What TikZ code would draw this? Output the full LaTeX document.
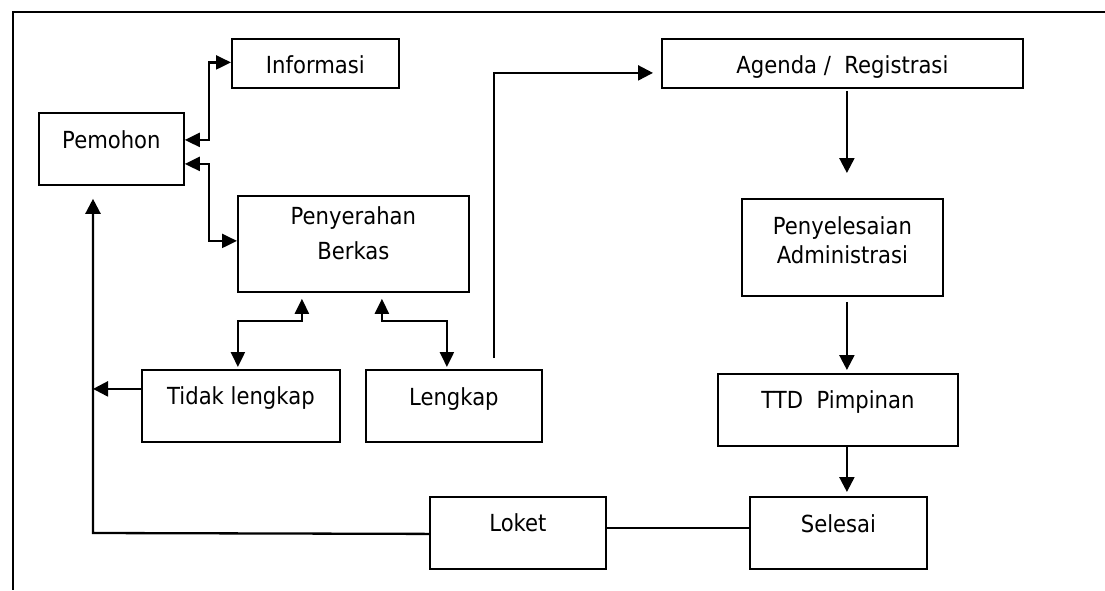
\documentclass[tikz,border=0pt]{standalone}
\usepackage{fontspec}
\setmainfont{DejaVu Sans}[FakeStretch=0.9]
\usetikzlibrary{arrows.meta}

\begin{document}
\begin{tikzpicture}[x=1pt,y=-1pt,
  boxn/.style={draw, line width=1.8pt, inner sep=0pt, anchor=north west,
    align=center, font=\fontsize{23.5}{29}\selectfont},
  flow/.style={line width=2.3pt, -{Triangle[length=15pt,width=15pt]}},
  twoway/.style={line width=2.3pt, {Triangle[length=15pt,width=14pt]}-{Triangle[length=15pt,width=14pt]}},
  plain/.style={line width=2.3pt},
  frame/.style={line width=2.2pt}]

\useasboundingbox (0,0) rectangle (1105,590);

% page frame (top and left edges)
\draw[frame] (1105,12) -- (13,12) -- (13,590);

% boxes
\node[boxn, minimum width=167pt, text height=35pt, text depth=14pt] (informasi) at (231,38) {Informasi};
\node[boxn, minimum width=145pt, text height=36pt, text depth=36pt] (pemohon) at (38,112) {Pemohon};
\node[boxn, minimum width=231pt, text height=29pt, text depth=67pt] (penyerahan) at (237,195)
  {\begin{tabular}[t]{@{}c@{}}Penyerahan\\[6pt]Berkas\end{tabular}};
\node[boxn, minimum width=361pt, text height=35pt, text depth=14pt] (agenda) at (661,38) {Agenda /\ \ Registrasi};
\node[boxn, minimum width=201pt, text height=36pt, text depth=61pt] (penyelesaian) at (741,198)
  {\begin{tabular}[t]{@{}c@{}}Penyelesaian\\Administrasi\end{tabular}};
\node[boxn, minimum width=198pt, text height=35pt, text depth=37pt] (tidak) at (141,369) {Tidak lengkap};
\node[boxn, minimum width=176pt, text height=36pt, text depth=36pt] (lengkap) at (365,369) {Lengkap};
\node[boxn, minimum width=240pt, text height=35pt, text depth=37pt] (ttd) at (717,373) {TTD\ \ Pimpinan};
\node[boxn, minimum width=176pt, text height=35pt, text depth=37pt] (loket) at (429,496) {Loket};
\node[boxn, minimum width=177pt, text height=36pt, text depth=36pt] (selesai) at (749,496) {Selesai};

% Pemohon <-> Informasi and Penyerahan Berkas
\draw[twoway] ([yshift=9pt]pemohon.east) -- ++(24,0) |- ([yshift=1pt]informasi.west);
\draw[twoway] ([yshift=-15pt]pemohon.east) -- ++(24,0) |- ([yshift=3pt]penyerahan.west);

% Penyerahan Berkas <-> Tidak lengkap / Lengkap
\draw[twoway, shorten <=6pt, shorten >=2pt] ([xshift=-51.5pt]penyerahan.south) -- ++(0,28) -| ([xshift=-3pt]tidak.north);
\draw[twoway, shorten <=6pt, shorten >=2pt] ([xshift=28.5pt]penyerahan.south) -- ++(0,28) -| ([xshift=-7pt]lengkap.north);

% Lengkap -> Agenda / Registrasi
\draw[flow, shorten >=8pt] ([xshift=40pt, yshift=11pt]lengkap.north) |- ([yshift=-9.5pt]agenda.west);

% right-hand column
\draw[flow, shorten <=2pt, shorten >=25pt] ([xshift=4.5pt]agenda.south) -- ([xshift=4.5pt]penyelesaian.north);
\draw[flow, shorten <=5pt, shorten >=3pt] ([xshift=4.5pt]penyelesaian.south) -- ([xshift=4.5pt]penyelesaian.south |- ttd.north);
\draw[flow, shorten >=4pt] ([xshift=9pt]ttd.south) -- ([xshift=9pt]ttd.south |- selesai.north);

% Selesai -- Loket -> Pemohon
\draw[plain] ([yshift=5pt]loket.east) -- ([yshift=5pt]selesai.west);
\coordinate (corner) at (93,533);
\draw[flow, shorten >=13pt] ([yshift=-1pt]loket.west) -- (corner) -- (corner |- pemohon.south);

% Tidak lengkap -> back line
\draw[flow] ([yshift=17pt]tidak.west) -- ([yshift=17pt]tidak.west -| corner);

\end{tikzpicture}
\end{document}
